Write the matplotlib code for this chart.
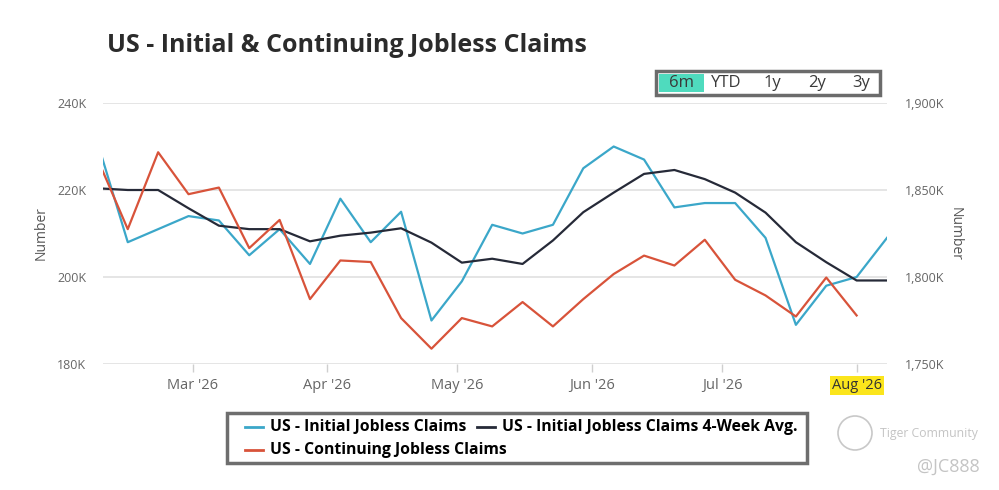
import matplotlib
matplotlib.use("Agg")
import matplotlib.pyplot as plt
import matplotlib.dates as mdates
from matplotlib.patches import Rectangle, Ellipse
from matplotlib.lines import Line2D
from matplotlib.ticker import FuncFormatter
import pandas as pd

# weekly data, values in thousands
weeks = pd.date_range("2026-02-07", "2026-08-08", freq="7D")
initial = [231, 208, 211, 214, 213, 205, 211, 203, 218, 208, 215, 190, 199, 212,
           210, 212, 225, 230, 227, 216, 217, 217, 209, 189, 198, 200, 209]
avg_4wk = [220.4, 220.0, 220.0, 215.8, 211.8, 211.0, 211.0, 208.2, 209.5, 210.2,
           211.2, 207.9, 203.3, 204.2, 203.0, 208.4, 214.9, 219.4, 223.7, 224.6,
           222.5, 219.4, 214.8, 208.0, 203.4, 199.2, 199.2]
continuing = [1868, 1827.5, 1871.7, 1847.6, 1851.4, 1816.6, 1832.8, 1787.3, 1809.5,
              1808.6, 1776.4, 1758.8, 1776.4, 1771.6, 1785.6, 1771.6, 1787.3, 1801.7,
              1812.3, 1806.6, 1821.4, 1798.4, 1789.4, 1777.3, 1799.7, 1777.9]
range_buttons = ["6m", "YTD", "1y", "2y", "3y"]

blue = "#3ba7c9"
navy = "#262a38"
red = "#d8533a"
grey_txt = "#666666"

plt.rcParams["font.family"] = ["Open Sans", "DejaVu Sans"]

W, H = 999, 490
fig = plt.figure(figsize=(W / 100, H / 100), dpi=100)
ax = fig.add_axes([103 / W, 1 - 364 / H, 784 / W, 261 / H])
ax2 = ax.twinx()

ax.plot(weeks, initial, color=blue, lw=1.6, zorder=3)
ax.plot(weeks, avg_4wk, color=navy, lw=1.6, zorder=4)
ax2.plot(weeks[:len(continuing)], continuing, color=red, lw=1.6)

ax.set_xlim(pd.Timestamp("2026-02-08 07:00"), pd.Timestamp("2026-08-08"))
ax.set_ylim(180, 240)
ax2.set_ylim(1750, 1900)
ax.set_yticks([180, 200, 220, 240])
ax2.set_yticks([1750, 1800, 1850, 1900])
ax.yaxis.set_major_formatter(FuncFormatter(lambda v, p: f"{v:.0f}K"))
ax2.yaxis.set_major_formatter(FuncFormatter(lambda v, p: f"{v:,.0f}K"))
ax.xaxis.set_major_locator(mdates.MonthLocator())
ax.xaxis.set_major_formatter(mdates.DateFormatter("%b '%y"))

ax.grid(axis="y", color="#e3e3e3", lw=1.3)
ax.set_axisbelow(True)
for a in (ax, ax2):
    for s in a.spines.values():
        s.set_visible(False)
ax.tick_params(axis="y", length=0, pad=12, labelsize=9, labelcolor=grey_txt)
ax2.tick_params(axis="y", length=0, pad=13, labelsize=9, labelcolor=grey_txt)
ax.tick_params(axis="x", length=6, color="#cfcfcf", width=1, pad=4,
               labelsize=10.5, labelcolor=grey_txt)
ax.set_ylabel("Number", fontsize=10, color="#555555", labelpad=6)
ax2.set_ylabel("Number", fontsize=10, color="#555555", rotation=-90, labelpad=13)

for lbl in ax.get_xticklabels():
    if lbl.get_text().startswith("Aug"):
        lbl.set_color("#333333")
        lbl.set_bbox(dict(facecolor="#fbe51c", edgecolor="none", pad=1.5))

fig.text(107 / W, 1 - 45 / H, "US - Initial & Continuing Jobless Claims",
         fontsize=18, fontweight="bold", color="#2b2b2b", va="center")

# range selector
fig.patches.append(Rectangle((656 / W, 1 - 95 / H), 224 / W, 24 / H,
                             transform=fig.transFigure, facecolor="white",
                             edgecolor="#6b6b6b", lw=2.5))
fig.patches.append(Rectangle((659 / W, 1 - 92 / H), 45 / W, 18 / H,
                             transform=fig.transFigure, facecolor="#4fdbbe",
                             edgecolor="none"))
for label, xc in zip(range_buttons, [681, 726, 772, 817, 861]):
    fig.text(xc / W, 1 - 83 / H, label, fontsize=12, color="#3a3a3a",
             ha="center", va="center")

# legend, flowed like the original (two entries on row one, one on row two)
fig.patches.append(Rectangle((227 / W, 1 - 463 / H), 580 / W, 50 / H,
                             transform=fig.transFigure, facecolor="white",
                             edgecolor="#6e6e6e", lw=2.5))
legend_items = [(blue, "US - Initial Jobless Claims", 245, 427),
                (navy, "US - Initial Jobless Claims 4-Week Avg.", 477, 427),
                (red, "US - Continuing Jobless Claims", 245, 450)]
for color, text, x0, yc in legend_items:
    fig.lines.append(Line2D([x0 / W, (x0 + 18) / W], [1 - yc / H, 1 - yc / H],
                            transform=fig.transFigure, color=color, lw=2))
    fig.text((x0 + 25) / W, 1 - yc / H, text, fontsize=11.3, fontweight="bold",
             color="black", va="center")

# watermark
fig.patches.append(Ellipse((855 / W, 1 - 433 / H), 34 / W, 34 / H,
                           transform=fig.transFigure, facecolor="none",
                           edgecolor="#c8c8c8", lw=1.2))
fig.text(880 / W, 1 - 434 / H, "Tiger Community", fontsize=8.8,
         color="#c4c4c4", va="center")
fig.text(980 / W, 1 - 467 / H, "@JC888", fontsize=13, color="#c4c4c4",
         va="center", ha="right")

fig.savefig("out.png", dpi=100)
